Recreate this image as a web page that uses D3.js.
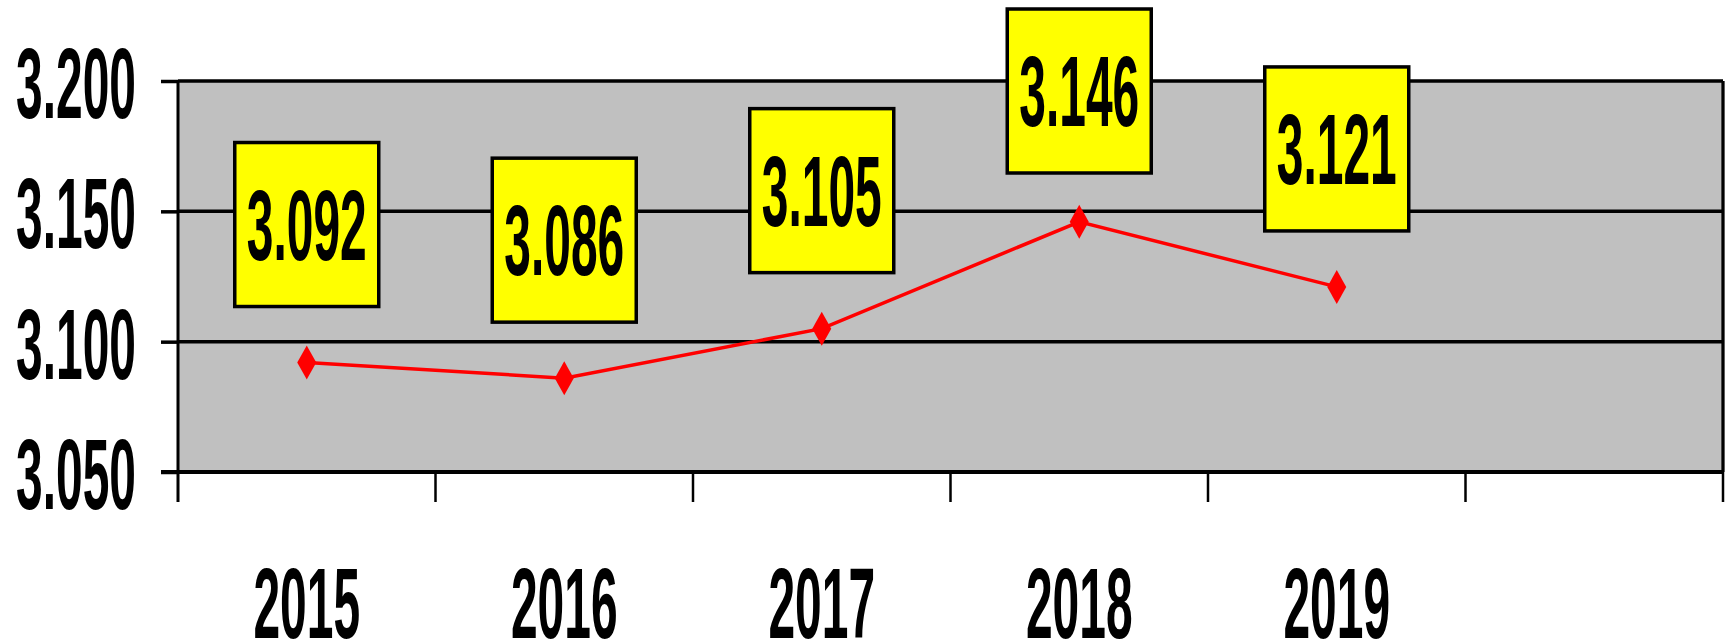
<!DOCTYPE html>
<html><head><meta charset="utf-8">
<script src="https://cdn.jsdelivr.net/npm/d3@7"></script>
<style>html,body{margin:0;padding:0;background:#fff;} svg{display:block}</style>
</head><body><svg id="c" width="1730" height="644"></svg>
<script>
const categories = ["2015","2016","2017","2018","2019",""];
const years = ["2015","2016","2017","2018","2019"];
const values = [3092,3086,3105,3146,3121];
const yTicks = [3050,3100,3150,3200];

const svg = d3.select("#c");
const x = d3.scaleBand().domain(categories).range([178,1723]).padding(0);
const y = d3.scaleLinear().domain([3050,3200]).range([472,81]);
const loc = d3.formatLocale({decimal:",",thousands:".",grouping:[3],currency:["","€"]});
const fmt = loc.format(",");
const FONT = "'Liberation Sans Narrow','Arial Narrow','Liberation Sans',Arial,sans-serif";
const FS = 101;

// measure condense ratio
const probe = svg.append("text").attr("font-family",FONT).attr("font-weight","bold").attr("font-size",FS).text("3.200");
const ratio = 120 / probe.node().getComputedTextLength();
probe.remove();
function squeeze(sel){
  sel.each(function(){
    const n=this; const L=n.getComputedTextLength();
    if(L>0){ d3.select(n).attr("textLength",L*ratio).attr("lengthAdjust","spacingAndGlyphs"); }
  });
}

const [x0,x1] = x.range();
// plot background
svg.append("rect").attr("x",x0).attr("y",y(3200)).attr("width",x1-x0).attr("height",y(3050)-y(3200)).attr("fill","#C0C0C0");

// gridlines
svg.append("g").selectAll("line").data(yTicks.slice(1)).join("line")
  .attr("x1",x0).attr("x2",x1).attr("y1",d=>y(d)).attr("y2",d=>y(d))
  .attr("stroke","#000").attr("stroke-width",3.5);

// right border
svg.append("line").attr("x1",x1).attr("x2",x1).attr("y1",y(3200)).attr("y2",y(3050)).attr("stroke","#000").attr("stroke-width",3);

// y axis
const gy = svg.append("g").attr("transform",`translate(${x0},0)`)
  .call(d3.axisLeft(y).tickValues(yTicks).tickFormat(fmt).tickSize(17).tickPadding(25));
gy.select(".domain").remove();
gy.selectAll(".tick line").attr("stroke","#000").attr("stroke-width",3.5);
gy.selectAll(".tick text").attr("font-family",FONT).attr("font-weight","bold").attr("font-size",FS).attr("fill","#000").attr("dy","0.36em").call(squeeze);

// x axis boundary ticks
const bounds = categories.map(c=>x(c)).concat([x1]);
svg.append("g").selectAll("line").data(bounds).join("line")
  .attr("x1",d=>d).attr("x2",d=>d).attr("y2",502)
  .attr("stroke","#000").attr("stroke-width",d=> (d===x0? 3 : 2.5))
  .attr("y1",d=> (d===x0||d===x1)? y(3200) : y(3050));
// x axis line
svg.append("line").attr("x1",x0-17).attr("x2",x1).attr("y1",y(3050)).attr("y2",y(3050)).attr("stroke","#000").attr("stroke-width",4);

// x labels
const gx = svg.append("g").attr("transform",`translate(0,${y(3050)})`)
  .call(d3.axisBottom(x).tickValues(years).tickSize(0).tickPadding(0));
gx.select(".domain").remove();
gx.selectAll(".tick text").attr("font-family",FONT).attr("font-weight","bold").attr("font-size",FS).attr("fill","#000").attr("dy",null).attr("y",166).call(squeeze);

// line
const cx = d=>x(d)+x.bandwidth()/2;
const pts = years.map((yr,i)=>[cx(yr),y(values[i])]);
svg.append("path").attr("d",d3.line()(pts)).attr("fill","none").attr("stroke","#FF0000").attr("stroke-width",3.5);
svg.append("g").selectAll("path").data(pts).join("path")
  .attr("transform",d=>`translate(${d[0]},${d[1]})`)
  .attr("d","M0,-17L9.5,0L0,17L-9.5,0Z").attr("fill","#FF0000");

// data labels (kept inside the chart area: top edge no higher than 9px)
const lg = svg.append("g").selectAll("g").data(years).join("g")
  .attr("transform",(yr,i)=>`translate(${cx(yr)},${Math.max(y(values[i])-138, 9+82)})`);
lg.append("rect").attr("x",-72).attr("y",-82).attr("width",144).attr("height",164)
  .attr("fill","#FFFF00").attr("stroke","#000").attr("stroke-width",3.5);
lg.append("text").attr("text-anchor","middle").attr("y",35)
  .attr("font-family",FONT).attr("font-weight","bold").attr("font-size",FS).attr("fill","#000")
  .text((yr,i)=>fmt(values[i])).call(squeeze);
</script></body></html>
